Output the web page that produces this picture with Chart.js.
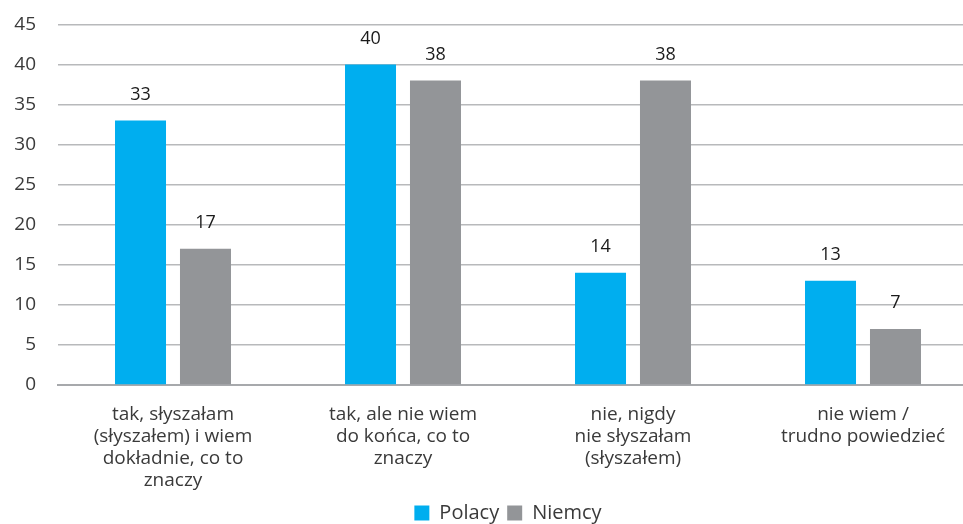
<!DOCTYPE html>
<html>
<head>
<meta charset="utf-8">
<script src="https://cdn.jsdelivr.net/npm/chart.js@4"></script>
<style>
  html, body { margin: 0; padding: 0; background: #fff; }
  #frame { width: 963px; height: 524px; overflow: hidden; position: relative; }
  #wrap { position: absolute; left: 0; top: -9px; width: 978px; height: 542px; }
</style>
</head>
<body>
<div id="frame"><div id="wrap"><canvas id="c"></canvas></div></div>
<script>
// dane z wykresu
var categories = [
  ["tak, słyszałam", "(słyszałem) i wiem", "dokładnie, co to", "znaczy"],
  ["tak, ale nie wiem", "do końca, co to", "znaczy"],
  ["nie, nigdy", "nie słyszałam", "(słyszałem)"],
  ["nie wiem /", "trudno powiedzieć"]
];
var polacy = [33, 40, 14, 13];
var niemcy = [17, 38, 38, 7];
var yTicks = [0, 5, 10, 15, 20, 25, 30, 35, 40, 45];

var FONT = "'Open Sans', 'Lato', sans-serif";
var TXT = "#3a3a3a";

// etykiety nad słupkami
var barLabels = {
  id: "barLabels",
  afterDatasetsDraw: function(chart){
    var ctx = chart.ctx;
    ctx.save();
    ctx.font = "18px " + FONT;
    ctx.fillStyle = "#1a1a1a";
    ctx.textAlign = "center";
    ctx.textBaseline = "bottom";
    chart.data.datasets.forEach(function(ds, i){
      var meta = chart.getDatasetMeta(i);
      meta.data.forEach(function(bar, j){
        ctx.fillText(String(ds.data[j]), bar.x, bar.y - 17);
      });
    });
    ctx.restore();
  }
};

// legenda wycentrowana nad obszarem wykresu, nie nad całym płótnem
var legendShift = {
  id: "legendShift",
  afterLayout: function(chart){
    if (chart.legend) {
      chart.legend.left += 19;
      chart.legend.right += 19;
    }
  }
};

new Chart(document.getElementById("c"), {
  type: "bar",
  data: {
    labels: categories,
    datasets: [
      { label: "Polacy", data: polacy, backgroundColor: "#00aeef", barPercentage: 0.785, categoryPercentage: 0.565 },
      { label: "Niemcy", data: niemcy, backgroundColor: "#939598", barPercentage: 0.785, categoryPercentage: 0.565 }
    ]
  },
  options: {
    responsive: true,
    maintainAspectRatio: false,
    animation: false,
    layout: { padding: { top: 0, right: 0, left: 0, bottom: 0 } },
    scales: {
      x: {
        afterFit: function(axis){ axis.height = 110; },
        grid: { display: false, drawTicks: false },
        border: { color: "#a7a9ac", width: 2 },
        ticks: { color: TXT, font: { family: FONT, size: 19, lineHeight: 1.15 }, padding: 19, maxRotation: 0, autoSkip: false }
      },
      y: {
        min: 0, max: 45,
        afterBuildTicks: function(axis){ axis.ticks = yTicks.map(function(v){ return { value: v }; }); },
        afterFit: function(axis){ axis.width = 58; },
        grid: { color: "#b8b9bb", lineWidth: 1.5, drawTicks: false },
        border: { display: false },
        ticks: { color: TXT, font: { family: FONT, size: 19 }, padding: 22 }
      }
    },
    plugins: {
      legend: {
        position: "bottom",
        labels: { color: TXT, font: { family: FONT, size: 20 }, boxWidth: 15, boxHeight: 15, padding: 8 }
      },
      tooltip: { enabled: false }
    }
  },
  plugins: [barLabels, legendShift]
});
</script>
</body>
</html>
